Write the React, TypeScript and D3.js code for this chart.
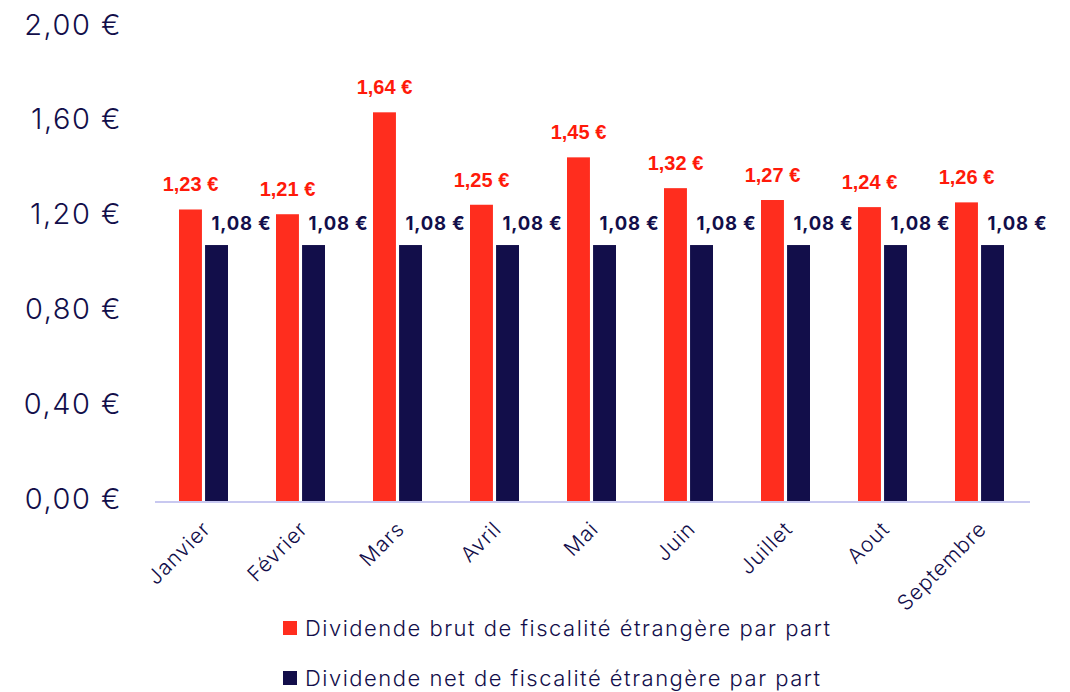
import * as d3 from "d3";

const months = ["Janvier", "Février", "Mars", "Avril", "Mai", "Juin", "Juillet", "Aout", "Septembre"];
const brut = [1.23, 1.21, 1.64, 1.25, 1.45, 1.32, 1.27, 1.24, 1.26];
const net = [1.08, 1.08, 1.08, 1.08, 1.08, 1.08, 1.08, 1.08, 1.08];
const yTicks = [0, 0.4, 0.8, 1.2, 1.6, 2.0];
const seriesNames = [
  "Dividende brut de fiscalité étrangère par part",
  "Dividende net de fiscalité étrangère par part",
];

const RED = "#ff2d1e";
const NAVY = "#120e4a";
const fmt = (v: number) => v.toFixed(2).replace(".", ",") + " €";

export default function App() {
  const width = 1070;
  const height = 692;

  const x = d3.scaleBand().domain(months).range([155, 1028]).padding(0);
  const inner = d3.scaleBand().domain(["brut", "net"]).range([24, 73]).paddingInner(0.12);
  const y = d3.scaleLinear().domain([0, 2]).range([501, 27]);
  const bw = inner.bandwidth();

  return (
    <svg
      width={width}
      height={height}
      style={{ position: "absolute", left: 0, top: 0, background: "#fff" }}
    >
      {yTicks.map((t) => (
        <text
          key={t}
          x={122}
          y={y(t) - 3}
          textAnchor="end"
          dominantBaseline="central"
          fontFamily="Inter"
          fontWeight={300}
          fontSize={29}
          letterSpacing={1.5}
          fill={NAVY}
        >
          {fmt(t)}
        </text>
      ))}
      <line x1={155} x2={1030} y1={502} y2={502} stroke="#c8c8f0" strokeWidth={2} />
      {months.map((m, i) => {
        const x0 = x(m) ?? 0;
        const xb = x0 + (inner("brut") ?? 0);
        const xn = x0 + (inner("net") ?? 0);
        const cx = x0 + x.bandwidth() / 2;
        return (
          <g key={m}>
            <rect x={xb} y={y(brut[i])} width={bw} height={y(0) - y(brut[i])} fill={RED} />
            <rect x={xn} y={y(net[i])} width={bw} height={y(0) - y(net[i])} fill={NAVY} />
            <text
              x={xb + bw / 2}
              y={y(brut[i]) - 18}
              textAnchor="middle"
              fontFamily="Liberation Sans, Arial"
              fontWeight="bold"
              fontSize={20}
              fill="#ff1a0a"
            >
              {fmt(brut[i])}
            </text>
            <text
              x={xn + bw / 2 + 25}
              y={y(net[i]) - 15}
              textAnchor="middle"
              fontFamily="Inter"
              fontWeight="bold"
              fontSize={18.5}
              letterSpacing={0.8}
              fill={NAVY}
            >
              {fmt(net[i])}
            </text>
            <text
              transform={`translate(${cx + 3},${525}) rotate(-45)`}
              textAnchor="end"
              dominantBaseline="central"
              fontFamily="Inter"
              fontWeight={300}
              fontSize={21}
              letterSpacing={1}
              fill={NAVY}
            >
              {m}
            </text>
          </g>
        );
      })}
      {seriesNames.map((s, i) => (
        <g key={s} transform={`translate(283,${628 + i * 50})`}>
          <rect x={0} y={-7} width={14} height={14} fill={i === 0 ? RED : NAVY} />
          <text
            x={22}
            y={0}
            dominantBaseline="central"
            fontFamily="Inter"
            fontWeight={300}
            fontSize={22}
            letterSpacing={1.5}
            fill={NAVY}
          >
            {s}
          </text>
        </g>
      ))}
    </svg>
  );
}
